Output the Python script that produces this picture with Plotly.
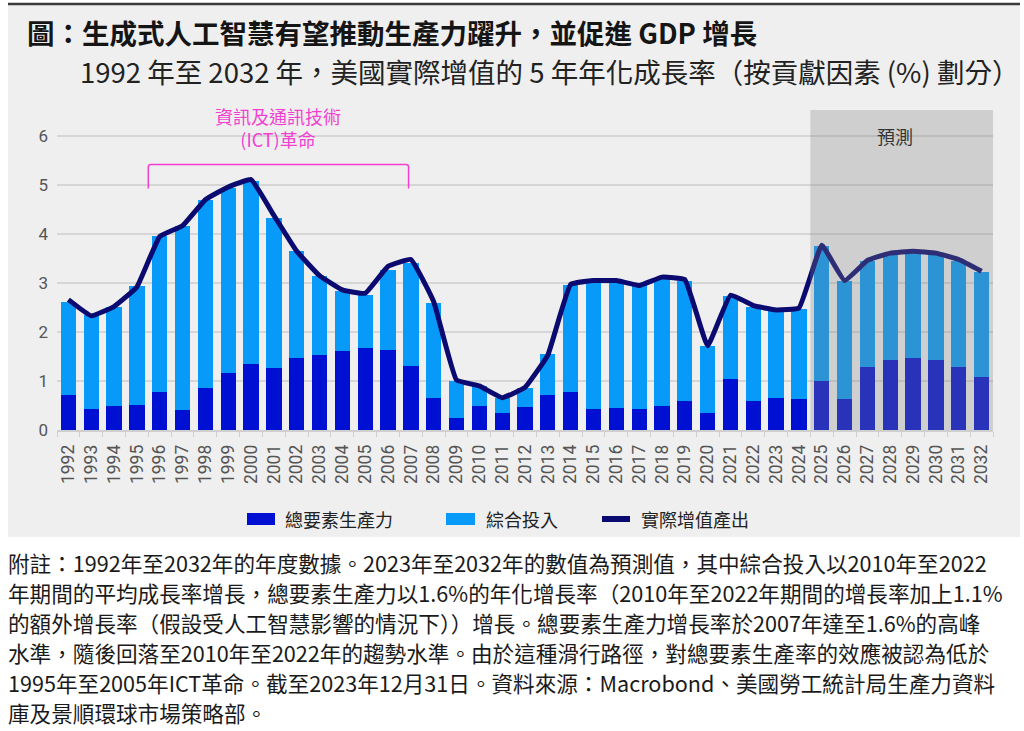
import plotly.graph_objects as go

years = [1992, 1993, 1994, 1995, 1996, 1997, 1998, 1999, 2000, 2001, 2002, 2003, 2004, 2005,
         2006, 2007, 2008, 2009, 2010, 2011, 2012, 2013, 2014, 2015, 2016, 2017, 2018, 2019,
         2020, 2021, 2022, 2023, 2024, 2025, 2026, 2027, 2028, 2029, 2030, 2031, 2032]
year_labels = [str(y) for y in years]

tfp = [0.72, 0.42, 0.49, 0.51, 0.78, 0.41, 0.85, 1.16, 1.35, 1.26, 1.46, 1.53, 1.62, 1.67,
       1.64, 1.30, 0.66, 0.25, 0.49, 0.35, 0.46, 0.72, 0.78, 0.42, 0.45, 0.43, 0.48, 0.60,
       0.34, 1.05, 0.60, 0.66, 0.63, 0.99, 0.63, 1.28, 1.42, 1.46, 1.42, 1.28, 1.08]
inputs = [1.89, 1.93, 2.03, 2.43, 3.17, 3.76, 3.85, 3.78, 3.73, 3.07, 2.19, 1.61, 1.21, 1.09,
          1.63, 2.11, 1.93, 0.74, 0.40, 0.30, 0.39, 0.83, 2.18, 2.61, 2.58, 2.52, 2.60, 2.45,
          1.38, 1.68, 1.91, 1.78, 1.84, 2.76, 2.42, 2.16, 2.18, 2.17, 2.16, 2.16, 2.14]
real_output = [2.66, 2.33, 2.52, 2.92, 3.95, 4.17, 4.70, 4.96, 5.11, 4.38, 3.65, 3.15, 2.86, 2.79,
               3.34, 3.48, 2.62, 1.02, 0.90, 0.66, 0.87, 1.53, 2.97, 3.05, 3.05, 2.95, 3.12, 3.07,
               1.72, 2.75, 2.54, 2.45, 2.49, 3.77, 3.05, 3.46, 3.61, 3.65, 3.61, 3.48, 3.24]

y_ticks = [0, 1, 2, 3, 4, 5, 6]

series_names = ["總要素生產力", "綜合投入", "實際增值產出"]
title_text = "圖：生成式人工智慧有望推動生產力躍升，並促進 GDP 增長"
subtitle_text = "1992 年至 2032 年，美國實際增值的 5 年年化成長率（按貢獻因素 (%) 劃分）"
ict_text = "資訊及通訊技術<br>(ICT)革命"
forecast_text = "預測"
ict_period = (1995.5, 2006.9)
forecast_period = (2024.5, 2032.5)
footnote_lines = [
    "附註：1992年至2032年的年度數據。2023年至2032年的數值為預測值，其中綜合投入以2010年至2022",
    "年期間的平均成長率增長，總要素生產力以1.6%的年化增長率（2010年至2022年期間的增長率加上1.1%",
    "的額外增長率（假設受人工智慧影響的情況下））增長。總要素生產力增長率於2007年達至1.6%的高峰",
    "水準，隨後回落至2010年至2022年的趨勢水準。由於這種滑行路徑，對總要素生產率的效應被認為低於",
    "1995年至2005年ICT革命。截至2023年12月31日。資料來源：Macrobond、美國勞工統計局生產力資料",
    "庫及景順環球市場策略部。",
]

C_TFP = "#0010d2"
C_INP = "#079af8"
C_LINE = "#0a0a70"
C_PINK = "#f23fd2"
FONT = "Noto Sans CJK TC, Noto Sans, sans-serif"

W, H = 1024, 731
ML, MR, MT, MB = 57, 31, 110, 301
PW, PH = W - ML - MR, H - MT - MB


def px(x):
    return (x - ML) / PW


def py(y):
    return (H - MB - y) / PH


fig = go.Figure()
fig.add_trace(go.Bar(x=years, y=tfp, name=series_names[0], marker_color=C_TFP,
                     marker_line_width=0, width=0.67, showlegend=False))
fig.add_trace(go.Bar(x=years, y=inputs, name=series_names[1], marker_color=C_INP,
                     marker_line_width=0, width=0.67, showlegend=False))
fig.add_trace(go.Scatter(x=years, y=real_output, name=series_names[2], mode="lines",
                         line=dict(color=C_LINE, width=5, shape="spline", smoothing=0.3),
                         showlegend=False))

shapes = []
# grey panel & top rule
shapes.append(dict(type="rect", xref="paper", yref="paper", x0=px(8), x1=px(1020),
                   y0=py(537), y1=py(5), fillcolor="#efefef", line_width=0, layer="below"))
shapes.append(dict(type="line", xref="paper", yref="paper", x0=px(8), x1=px(1020),
                   y0=py(4), y1=py(4), line=dict(color="#3a3a3a", width=2.5)))
# forecast shade
shapes.append(dict(type="rect", xref="x", yref="paper", x0=forecast_period[0], x1=forecast_period[1],
                   y0=0, y1=1, fillcolor="rgba(132,132,132,0.30)", line_width=0, layer="above"))
# ICT bracket
a, b = ict_period
shapes.append(dict(type="path", xref="x", yref="y",
                   path=f"M {a},4.93 L {a},5.37 Q {a},5.42 {a+0.12},5.42 L {b-0.12},5.42 "
                        f"Q {b},5.42 {b},5.37 L {b},4.93",
                   line=dict(color=C_PINK, width=1.5)))

# custom legend
leg_y = 519
shapes.append(dict(type="rect", xref="paper", yref="paper", x0=px(247), x1=px(275),
                   y0=py(525), y1=py(513), fillcolor=C_TFP, line_width=0))
shapes.append(dict(type="rect", xref="paper", yref="paper", x0=px(446), x1=px(475),
                   y0=py(525), y1=py(513), fillcolor=C_INP, line_width=0))
shapes.append(dict(type="line", xref="paper", yref="paper", x0=px(602), x1=px(630),
                   y0=py(leg_y), y1=py(leg_y), line=dict(color=C_LINE, width=6)))

annotations = []
for x0, txt in [(283, series_names[0]), (484, series_names[1]), (639, series_names[2])]:
    annotations.append(dict(xref="paper", yref="paper", x=px(x0), y=py(leg_y), text=txt,
                            showarrow=False, xanchor="left", yanchor="middle",
                            font=dict(family=FONT, size=18, color="#222")))

annotations.append(dict(xref="paper", yref="paper", x=px(25), y=py(32), text=f"<b>{title_text}</b>",
                        showarrow=False, xanchor="left", yanchor="middle",
                        font=dict(family=FONT, size=27.5, color="#151515")))
annotations.append(dict(xref="paper", yref="paper", x=px(78), y=py(71), text=subtitle_text,
                        showarrow=False, xanchor="left", yanchor="middle",
                        font=dict(family=FONT, size=27.5, color="#222")))
annotations.append(dict(xref="x", yref="y", x=2001.2, y=6.18, text=ict_text, showarrow=False,
                        xanchor="center", yanchor="middle", align="center",
                        font=dict(family=FONT, size=18, color=C_PINK)))
annotations.append(dict(xref="x", yref="y", x=2028.2, y=6.0, text=forecast_text, showarrow=False,
                        xanchor="center", yanchor="middle",
                        font=dict(family=FONT, size=18, color="#333")))
for i, line in enumerate(footnote_lines):
    annotations.append(dict(xref="paper", yref="paper", x=px(6), y=py(562 + 30 * i), text=line,
                            showarrow=False, xanchor="left", yanchor="middle",
                            font=dict(family=FONT, size=21.6, color="#1a1a1a")))

fig.update_layout(
    width=W, height=H,
    margin=dict(l=ML, r=MR, t=MT, b=MB, pad=0),
    paper_bgcolor="white", plot_bgcolor="#efefef",
    barmode="stack", bargap=0.33,
    shapes=shapes, annotations=annotations,
    font=dict(family=FONT),
)
fig.update_xaxes(range=[1991.5, 2032.5], tickmode="array", tickvals=years, ticktext=year_labels,
                 tickangle=-90, ticks="", showgrid=False, zeroline=False,
                 showline=True, linecolor="#cfcfcf", linewidth=1.5,
                 tickfont=dict(family="Roboto, sans-serif", size=17.5, color="#555"),
                 ticklabelstandoff=6,
                 minor=dict(tick0=1991.5, dtick=1, ticks="outside", ticklen=5,
                            tickcolor="#cfcfcf", tickwidth=1))
fig.update_yaxes(range=[0, 6.53], tickmode="array", tickvals=y_ticks,
                 showgrid=True, gridcolor="#d6d6d6", gridwidth=1.5, zeroline=False,
                 tickfont=dict(family="Roboto, sans-serif", size=17, color="#555"),
                 ticklabelstandoff=8)

fig.write_html("out.html", config={"displayModeBar": False},
               post_script="document.body.style.margin='0';document.body.style.overflow='hidden';")
